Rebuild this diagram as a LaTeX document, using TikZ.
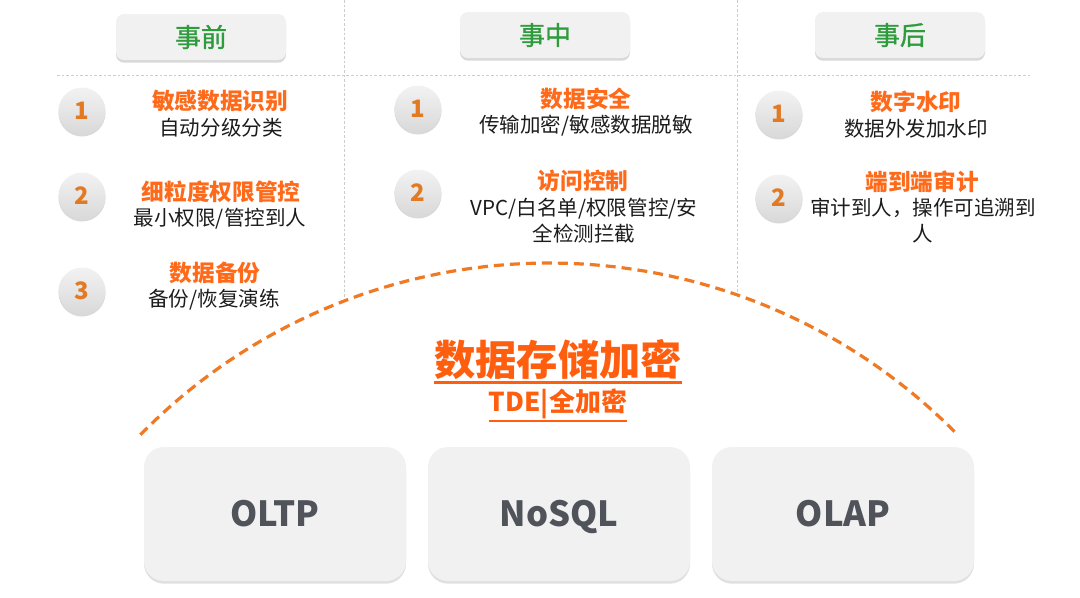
\documentclass[tikz,border=0pt]{standalone}
\usepackage{fontspec}
\setmainfont{Noto Sans CJK SC}
\newfontfamily\hdrfont[FakeBold=1.2]{Noto Sans CJK SC}
\usetikzlibrary{shadows}
\definecolor{hdrgreen}{HTML}{2E9B3C}
\definecolor{itemorange}{HTML}{FF6A1A}
\definecolor{numorange}{HTML}{E27A24}
\definecolor{bigorange}{HTML}{FF5E0E}
\definecolor{arcorange}{HTML}{F07A24}
\definecolor{boxgray}{HTML}{F1F1F2}
\definecolor{boxtext}{HTML}{50545A}
\definecolor{linegray}{HTML}{CCCCCC}
\definecolor{bodytext}{HTML}{1C1C1C}
\tikzset{
  hdrbox/.style={rounded corners=8*0.75pt, fill=boxgray, minimum width=170*0.75pt, minimum height=46*0.75pt,
    drop shadow={shadow xshift=0pt, shadow yshift=-2pt, opacity=0.25, fill=black!60},
    text=hdrgreen, font=\hdrfont\fontsize{19.5}{22}\selectfont, inner sep=0pt},
  numcirc/.style={circle, minimum size=47*0.75pt, inner sep=0pt,
    top color=gray!10, bottom color=gray!30,
    drop shadow={shadow xshift=0pt, shadow yshift=-1.5pt, opacity=0.25, fill=black!60},
    text=numorange, font=\fontsize{18}{20}\selectfont\bfseries},
  itemtitle/.style={text=itemorange, font=\fontsize{17}{20}\selectfont\bfseries, inner sep=0pt},
  itembody/.style={text=bodytext, font=\fontsize{15.4}{19.5}\selectfont, inner sep=0pt, align=center},
  dbbox/.style={rounded corners=20*0.75pt, fill=boxgray, minimum width=262*0.75pt, minimum height=134*0.75pt,
    drop shadow={shadow xshift=0pt, shadow yshift=-2pt, opacity=0.2, fill=black!60},
    text=boxtext, font=\fontsize{26}{30}\selectfont\bfseries, inner sep=0pt,
    text height=18.6pt, text depth=0pt},
  sepline/.style={linegray, line width=0.6pt, dash pattern=on 2pt off 1.5pt},
}
\begin{document}
\begin{tikzpicture}[x=0.75pt,y=-0.75pt]
\useasboundingbox (0,0) rectangle (1080,597);
% separators
\coordinate (v1t) at (344,0);
\coordinate (v1b) at (344,300);
\coordinate (v2t) at (737,0);
\coordinate (v2b) at (737,297);
\coordinate (hl) at (57,75);
\coordinate (hr) at (1032,75);
\draw[sepline] (v1t) -- (v1b);
\draw[sepline] (v2t) -- (v2b);
\draw[sepline] (hl) -- (hr);
% headers
\node[hdrbox] (h1) at (201,37) {事前};
\node[hdrbox] (h2) at (545,35) {事中};
\node[hdrbox] (h3) at (900,35) {事后};
% column 1
\node[numcirc] (c11) at (82,111) {1};
\node[numcirc] (c12) at (82,196) {2};
\node[numcirc] (c13) at (82,291) {3};
\node[itemtitle] (t11) at (220,101) {敏感数据识别};
\node[itembody] (b11) at (221,128) {自动分级分类};
\node[itemtitle] (t12) at (221,192) {细粒度权限管控};
\node[itembody] (b12) at (220,219) {最小权限/管控到人};
\node[itemtitle] (t13) at (215,273) {数据备份};
\node[itembody] (b13) at (214,300) {备份/恢复演练};
% column 2
\node[numcirc] (c21) at (418,109) {1};
\node[numcirc] (c22) at (418,193) {2};
\node[itemtitle] (t21) at (586,99) {数据安全};
\node[itembody] (b21) at (586,126) {传输加密/敏感数据脱敏};
\node[itemtitle] (t22) at (583,181) {访问控制};
\node[itembody] (b22) at (584,221) {VPC/白名单/权限管控/安\\全检测拦截};
% column 3
\node[numcirc] (c31) at (779,114) {1};
\node[numcirc] (c32) at (779,198) {2};
\node[itemtitle] (t31) at (916,102) {数字水印};
\node[itembody] (b31) at (916,129) {数据外发加水印};
\node[itemtitle] (t32) at (922,182) {端到端审计};
\node[itembody] (b32) at (923,221) {审计到人，操作可追溯到\\人};
% arc
\draw[arcorange, line width=2.4pt, dash pattern=on 7.5pt off 4.5pt]
  plot[domain=135.6:44.4, samples=80] ({549+572*cos(\x)}, {835-572*sin(\x)});
% central title
\node[text=bigorange, font=\fontsize{31}{34}\selectfont\bfseries, inner sep=0pt] (big) at (558,360) {数据存储加密};
\node[text=bigorange, font=\fontsize{19.5}{22}\selectfont\bfseries, inner sep=0pt] (tde) at (558,404) {TDE|全加密};
\draw[bigorange, line width=2.2pt] ([yshift=-1.5pt]big.south west) -- ([yshift=-1.5pt]big.south east);
\draw[bigorange, line width=1.6pt] ([yshift=-1.5pt]tde.south west) -- ([yshift=-1.5pt]tde.south east);
% bottom boxes
\node[dbbox] (oltp) at (275,514) {OLTP};
\node[dbbox] (nosql) at (559,514) {NoSQL};
\node[dbbox] (olap) at (843,514) {OLAP};
\end{tikzpicture}
\end{document}
